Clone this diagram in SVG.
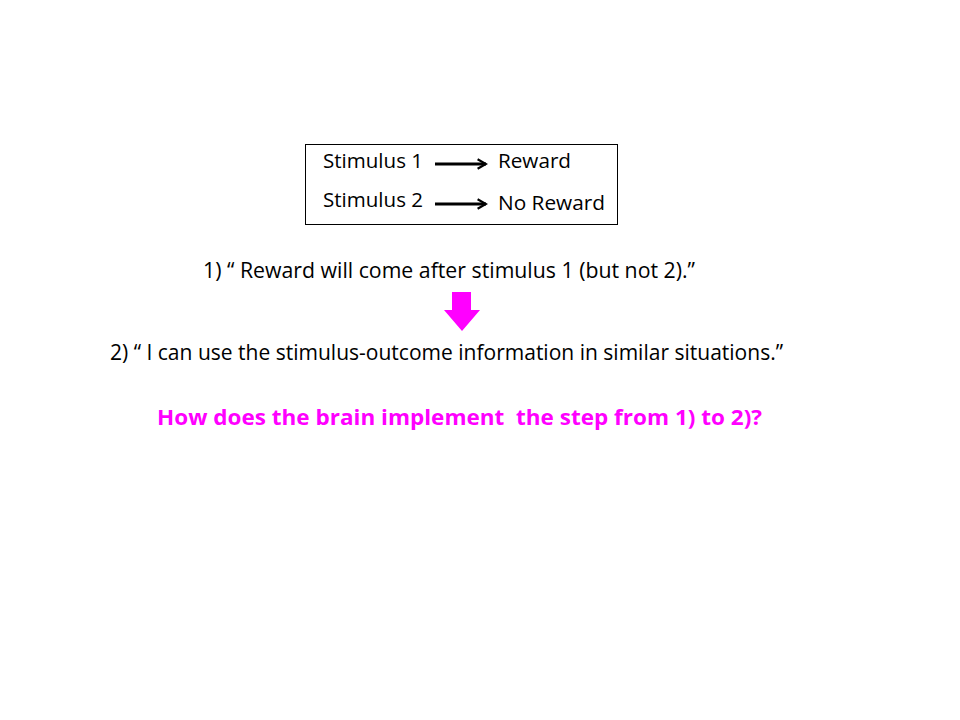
<svg xmlns="http://www.w3.org/2000/svg" width="960" height="720" viewBox="0 0 960 720">
<style>
.t{font-family:"Open Sans","Liberation Sans",sans-serif;fill:#000}
.b{font-size:20px}
.m{font-size:22px}
.q{font-family:"Open Sans","Liberation Sans",sans-serif;font-size:22px;font-weight:bold;fill:#FF00FF;white-space:pre}
.c{stroke:#000;stroke-width:3;fill:none}
</style>
<defs>
<marker id="ah" viewBox="0 0 10 10" refX="8.5" refY="5" markerWidth="4" markerHeight="4.4" orient="auto" markerUnits="strokeWidth">
<path d="M1.5,1 L8.5,5 L1.5,9" fill="none" stroke="#000" stroke-width="1.8"/>
</marker>
</defs>
<rect width="960" height="720" fill="#fff"/>
<g id="box">
<rect x="305.5" y="144.5" width="312" height="80" fill="#fff" stroke="#000" stroke-width="1"/>
<text class="t b" x="323" y="168" textLength="100" lengthAdjust="spacingAndGlyphs">Stimulus 1</text>
<text class="t b" x="498" y="168" textLength="73" lengthAdjust="spacingAndGlyphs">Reward</text>
<text class="t b" x="323" y="207" textLength="100" lengthAdjust="spacingAndGlyphs">Stimulus 2</text>
<text class="t b" x="498" y="210" textLength="107" lengthAdjust="spacingAndGlyphs">No Reward</text>
</g>
<g id="connectors">
<line class="c" x1="435" y1="164" x2="486" y2="164" marker-end="url(#ah)"/>
<line class="c" x1="435" y1="204" x2="486" y2="204" marker-end="url(#ah)"/>
</g>
<g id="statement1">
<text class="t m" x="203" y="278" textLength="492" lengthAdjust="spacingAndGlyphs">1) “ Reward will come after stimulus 1 (but not 2).”</text>
</g>
<g id="pinkArrow">
<polygon points="452,292 471,292 471,310 480,310 462,331 444,310 452,310" fill="#FF00FF"/>
</g>
<g id="statement2">
<text class="t m" x="110" y="360" textLength="673" lengthAdjust="spacingAndGlyphs">2) “ I can use the stimulus-outcome information in similar situations.”</text>
</g>
<g id="question">
<text class="q" x="157" y="425" textLength="605" lengthAdjust="spacingAndGlyphs" xml:space="preserve">How does the brain implement  the step from 1) to 2)?</text>
</g>
</svg>
